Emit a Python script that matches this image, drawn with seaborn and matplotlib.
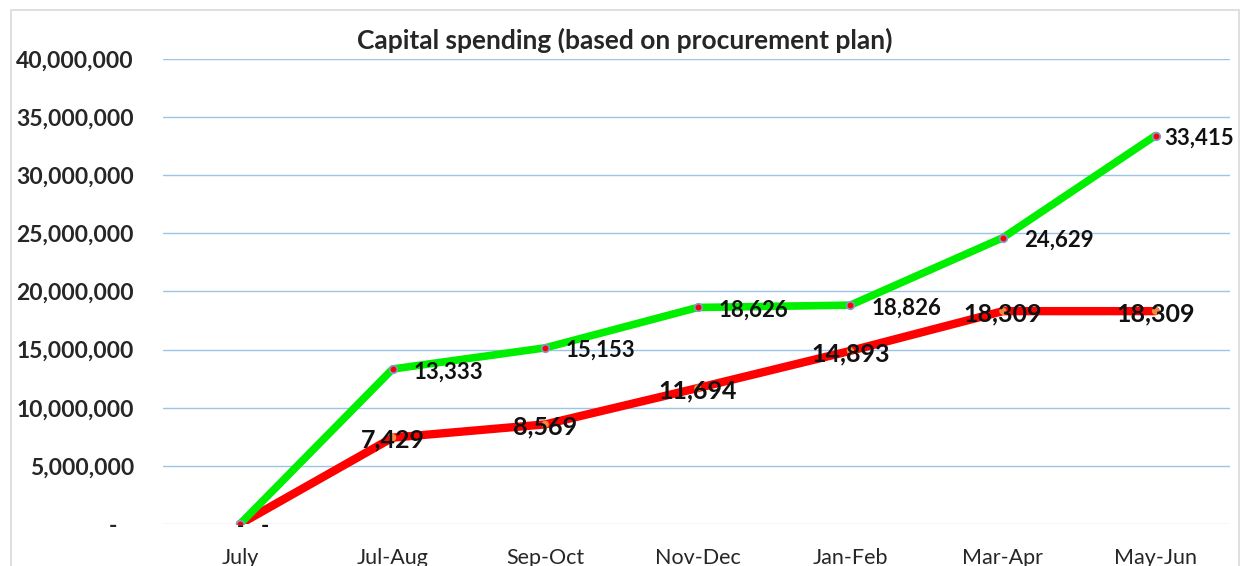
import matplotlib
matplotlib.use("Agg")
import matplotlib.pyplot as plt
import seaborn as sns
import pandas as pd
from matplotlib.ticker import FuncFormatter
from matplotlib.patches import Rectangle

categories = ["July", "Jul-Aug", "Sep-Oct", "Nov-Dec", "Jan-Feb", "Mar-Apr", "May-Jun"]
plan_values = [0, 13333000, 15153000, 18626000, 18826000, 24629000, 33415000]
actual_values = [0, 7429000, 8569000, 11694000, 14893000, 18309000, 18309000]
title = "Capital spending (based on procurement plan)"
yticks = [0, 5000000, 10000000, 15000000, 20000000, 25000000, 30000000, 35000000, 40000000]

sns.set_style("white")
plt.rcParams["font.family"] = ["Lato", "DejaVu Sans"]

df = pd.DataFrame({
    "idx": list(range(len(categories))) * 2,
    "value": plan_values + actual_values,
    "series": ["Plan"] * len(categories) + ["Actual"] * len(categories),
})

fig = plt.figure(figsize=(12.44, 5.66), dpi=100)
ax = fig.add_axes([0.131, 0.0742, 0.858, 0.8216])

fig.patches.append(Rectangle((0.009, -0.1), 0.987, 1.082, transform=fig.transFigure,
                             fill=False, edgecolor="#d9d9d9", linewidth=1.2, zorder=0))

sns.lineplot(data=df, x="idx", y="value", hue="series",
             palette={"Plan": "#00ee00", "Actual": "#ff0000"},
             hue_order=["Plan", "Actual"], linewidth=5.5, legend=False, ax=ax,
             zorder=3)
ax.lines[1].set_linewidth(6.0)
ax.lines[1].set_zorder(2)

x = list(range(len(categories)))
ax.scatter(x, plan_values, s=30, color="#ff0000", edgecolor="#7f9fcf", linewidth=1.2, zorder=5)
ax.scatter(x, actual_values, s=28, color="#f08a3c", edgecolor="none", zorder=4)

def fmt_k(v):
    return "-" if v == 0 else f"{v/1000:,.0f}"

n = len(plan_values)
for i, v in enumerate(plan_values):
    dx = 6 if i == n - 1 else 15
    ax.annotate(fmt_k(v), (i, v), xytext=(dx, -2), textcoords="offset points",
                ha="left", va="center", fontsize=16, fontweight="bold", color="#111111", zorder=6)
for i, v in enumerate(actual_values):
    ax.annotate(fmt_k(v), (i, v), xytext=(0, -2), textcoords="offset points",
                ha="center", va="center", fontsize=18 if v else 14, fontweight="bold",
                color="#111111", zorder=6)

ax.set_xlim(-0.505, 6.49)
ax.set_ylim(0, 40000000)
ax.set_yticks(yticks)
ax.yaxis.set_major_formatter(FuncFormatter(lambda v, p: "-   " if v == 0 else f"{v:,.0f}"))
ax.set_xticks(x)
ax.set_xticklabels(categories)
for lab in ax.get_yticklabels():
    lab.set_fontweight("bold")
    lab.set_fontsize(16.5)
for lab in ax.get_xticklabels():
    lab.set_fontsize(15.5)
ax.tick_params(axis="both", length=0)
ax.tick_params(axis="y", pad=21)
ax.tick_params(axis="x", pad=17)
ax.set_xlabel("")
ax.set_ylabel("")

for yv in yticks:
    ax.axhline(yv, color="#d9d9d9" if yv == 0 else "#9dc3e6", linewidth=1.0, zorder=1)
for s in ax.spines.values():
    s.set_visible(False)

fig.text(0.502, 0.928, title, ha="center", va="center", fontsize=19, fontweight="bold")

fig.savefig("out.png", dpi=100)
